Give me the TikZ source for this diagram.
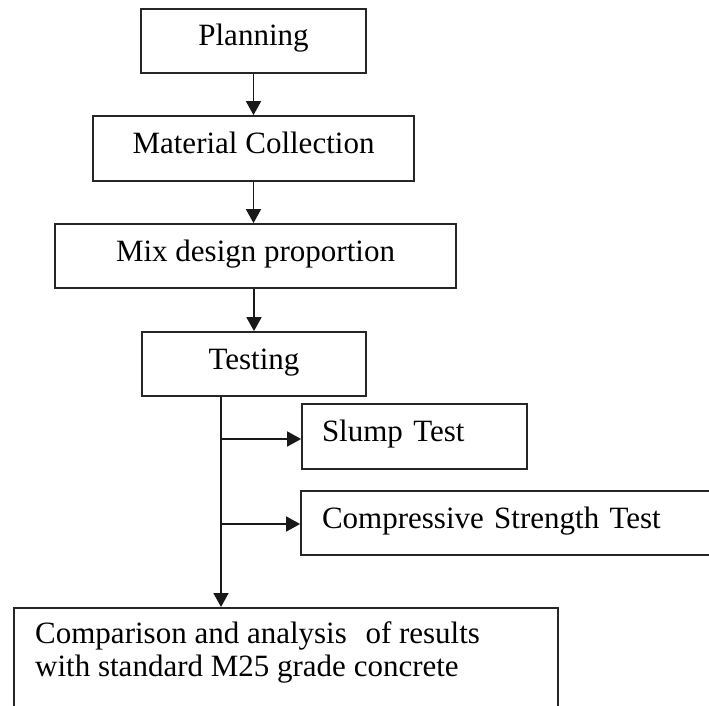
\documentclass[tikz,border=0pt]{standalone}
\usepackage{fontspec}
\setmainfont{Liberation Serif}
\usetikzlibrary{arrows.meta}
\begin{document}
\begin{tikzpicture}[x=1pt,y=-1pt,
  box/.style={draw=black!85, line width=1.8pt, rectangle, inner sep=0pt,
    text height=19pt, text depth=9pt, font=\fontsize{31}{33}\selectfont},
  txt/.style={inner sep=0pt, align=left, font=\fontsize{31}{33}\selectfont},
  arr/.style={draw=black!90, line width=1.8pt, -{Triangle[length=14pt,width=15pt]}}]
\useasboundingbox (0,0) rectangle (709,706);
\clip (0,0) rectangle (709,706);
\node (plan) [box, minimum width=225pt, minimum height=64pt] at (253.5,41) {Planning};
\node (mat) [box, minimum width=321pt, minimum height=65pt] at (253.5,148.5) {Material Collection};
\node (mix) [box, minimum width=401pt, minimum height=64pt] at (255.5,256) {Mix design proportion};
\node (test) [box, minimum width=224pt, minimum height=64pt] at (254,364) {Testing};
\node (slump) [box, minimum width=225pt, minimum height=65pt, text width=185pt, align=left] at (414.5,436.5) {Slump Test};
\node (comp) [box, minimum width=439pt, minimum height=64pt, text width=397pt, align=left] at (520.5,523) {Compressive Strength Test};
\node (cmpbox) [box, minimum width=544pt, minimum height=130pt, anchor=north west] at (13,607) {};
\node (cmptxt) [txt, anchor=north west] at (35,621) {Comparison and analysis\hspace{0.35em} of results\\with standard M25 grade concrete};
\coordinate (tb) at ([xshift=-33pt]test.south);
\coordinate (j1) at (221,439);
\coordinate (j2) at (221,524);
\draw[arr] (plan.south) -- (plan.south |- mat.north);
\draw[arr] (mat.south) -- (mat.south |- mix.north);
\draw[arr] (test.north |- mix.south) -- (test.north);
\draw[arr] (tb) -- (tb |- cmpbox.north);
\draw[arr] (j1) -- (j1 -| slump.west);
\draw[arr] (j2) -- (j2 -| comp.west);
\end{tikzpicture}
\end{document}
